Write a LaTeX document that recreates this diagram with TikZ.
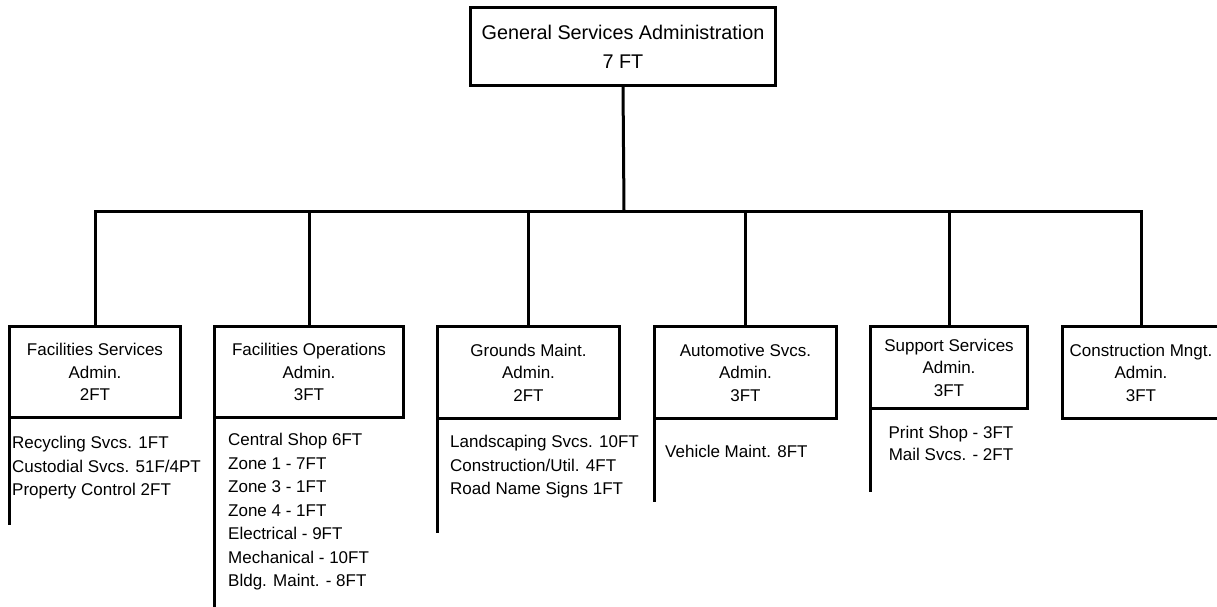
\documentclass[tikz,border=0pt]{standalone}
\usepackage{fontspec}
\setmainfont{Liberation Sans}
\newcommand\unitfont{\fontsize{17}{22.5}\selectfont}
\newcommand\listfont{\fontsize{17}{23.5}\selectfont}
\newcommand\headfont{\fontsize{19.8}{29}\selectfont}
\tikzset{
  unitbox/.style={draw, line width=3.2pt, inner sep=0pt, outer sep=0pt,
    align=center, font=\unitfont, minimum height=92pt},
  sublist/.style={inner sep=0pt, align=left, font=\listfont},
  link/.style={line width=3pt},
}
\begin{document}
\begin{tikzpicture}[x=1pt,y=-1pt]
    \useasboundingbox (0,0) rectangle (1217,607);

    % head office
    \node[unitbox, font=\headfont, minimum width=305pt, minimum height=78pt]
      (gsa) at (623,46.5) {General Services Administration\\7 FT};
    \coordinate (bar) at (624,211);

    % divisions
    \node[unitbox, minimum width=171pt, minimum height=91pt] (fsa) at (95,372)
      {Facilities Services\\Admin.\\2FT};
    \node[unitbox, minimum width=189pt, minimum height=91pt] (foa) at (309,372)
      {Facilities Operations\\Admin.\\3FT};
    \node[unitbox, minimum width=182pt] (gma) at (528.5,372.5)
      {Grounds Maint.\\Admin.\\2FT};
    \node[unitbox, minimum width=182pt] (asa) at (745.5,372.5)
      {Automotive Svcs.\\Admin.\\3FT};
    \node[unitbox, minimum width=157pt, minimum height=82pt] (ssa) at (949,367.5)
      {Support Services\\Admin.\\3FT};
    \node[unitbox, minimum width=157pt] (cma) at (1141,372.5)
      {Construction Mngt.\\Admin.\\3FT};

    \draw[link] (gsa.south) -- (bar);
    \foreach \u in {fsa,foa,gma,asa,ssa,cma}
      \draw[link] (\u.north) |- (bar);

    % sections under each division
    \draw[link] (fsa.south west) -- ++(0,107.5);
    \draw[link] (foa.south west) -- ++(0,200);
    \draw[link] (gma.south west) -- ++(0,114.5);
    \draw[link] (asa.south west) -- ++(0,83.5);
    \draw[link] (ssa.south west) -- ++(0,83.5);

    \node[sublist, anchor=north west] (fsl) at (12,436)
      {Recycling Svcs. 1FT\\Custodial Svcs. 51F/4PT\\Property Control 2FT};
    \node[sublist, anchor=north west] (fol) at (228,433)
      {Central Shop 6FT\\Zone 1 - 7FT\\Zone 3 - 1FT\\Zone 4 - 1FT\\
       Electrical - 9FT\\Mechanical - 10FT\\Bldg. Maint. - 8FT};
    \node[sublist, anchor=north west] (gml) at (450,435)
      {Landscaping Svcs. 10FT\\Construction/Util. 4FT\\Road Name Signs 1FT};
    \node[sublist, anchor=north west] (asl) at (665,445) {Vehicle Maint. 8FT};
    \node[sublist, align=center, anchor=north, font=\fontsize{17}{22}\selectfont]
      (ssl) at (951,426) {Print Shop - 3FT\\Mail Svcs. - 2FT};

\end{tikzpicture}
\end{document}
